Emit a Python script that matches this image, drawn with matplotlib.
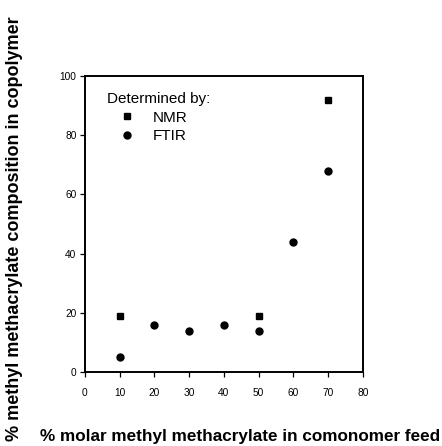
import matplotlib
matplotlib.use("Agg")
import matplotlib.pyplot as plt

plt.rcParams['font.family'] = ['Liberation Sans', 'DejaVu Sans']

nmr_x = [10, 50, 70]
nmr_y = [19, 19, 92]
ftir_x = [10, 20, 30, 40, 50, 60, 70]
ftir_y = [5, 16, 14, 16, 14, 44, 68]
xticks = [0, 10, 20, 30, 40, 50, 60, 70, 80]
yticks = [0, 20, 40, 60, 80, 100]

fig = plt.figure(figsize=(4.42, 4.46), dpi=100)
ax = fig.add_axes([0.192, 0.166, 0.629, 0.664])

ax.plot(nmr_x, nmr_y, 's', color='black', ms=4.8, label='NMR')
ax.plot(ftir_x, ftir_y, 'o', color='black', ms=5.0, label='FTIR')

ax.set_xlim(0, 80)
ax.set_ylim(0, 100)
ax.set_xticks(xticks)
ax.set_yticks(yticks)
ax.tick_params(direction='out', length=3.5, width=0.9, labelsize=7.3)
ax.tick_params(axis='x', pad=8)
ax.tick_params(axis='y', pad=2.5)
for s in ax.spines.values():
    s.set_linewidth(1.4)

leg = ax.legend(title='Determined by:', frameon=False, loc='upper left',
                bbox_to_anchor=(0.079, 0.945), fontsize=11, title_fontsize=11,
                handletextpad=0.4, labelspacing=0.3, handlelength=2.6,
                borderpad=0, borderaxespad=0)
leg._legend_box.align = 'left'

fig.text(0.033, 0.488, '% methyl methacrylate composition in copolymer',
         rotation=90, ha='center', va='center', fontsize=13, fontweight='bold')
fig.text(0.09, 0.012, '% molar methyl methacrylate in comonomer feed',
         ha='left', va='baseline', fontsize=12.3, fontweight='bold')

fig.savefig('out.png', dpi=100)
